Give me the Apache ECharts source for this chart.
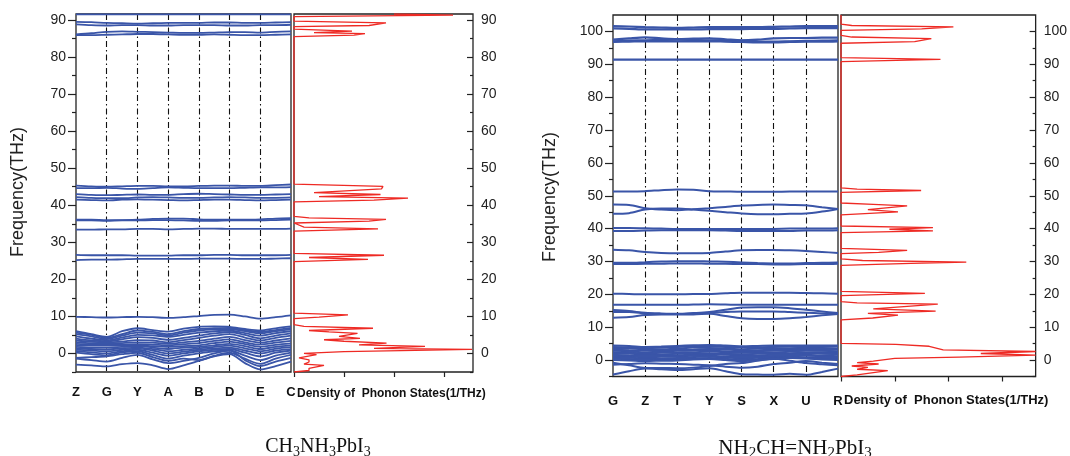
<!DOCTYPE html>
<html>
<head>
<meta charset="utf-8">
<script src="https://cdn.jsdelivr.net/npm/echarts@6/dist/echarts.min.js"></script>
<style>
html,body{margin:0;padding:0;background:#fff;}
#chart{width:1070px;height:456px;}
</style>
</head>
<body>
<div id="chart"></div>
<script>
// ---------- DATA ----------
const kPath = [0,0.5,1,1.5,2,2.5,3,3.5,4,4.5,5,5.5,6,6.5,7];
const kLabels1 = ['Z','G','Y','A','B','D','E','C'];
const kLabels2 = ['G','Z','T','Y','S','X','U','R'];
const yTicks1 = [0,10,20,30,40,50,60,70,80,90];
const yMinor1 = [-5,5,15,25,35,45,55,65,75,85];
const yTicks2 = [0,10,20,30,40,50,60,70,80,90,100];
const yMinor2 = [-5,5,15,25,35,45,55,65,75,85,95];
const dosTicks = [0,1,2,3];
const dosTitle = 'Density of  Phonon States(1/THz)';

// CH3NH3PbI3 phonon bands (THz) along Z-G-Y-A-B-D-E-C
const bandsHigh1 = [
  [91.5,91.5,91.5,91.5,91.5,91.5,91.5,91.5,91.5,91.5,91.5,91.5,91.5,91.5,91.5],
  [89.5,89.4,89.2,89.1,89.0,89.1,89.2,89.2,89.2,89.3,89.3,89.2,89.2,89.3,89.4],
  [88.8,88.6,88.5,88.6,88.6,88.5,88.5,88.6,88.6,88.6,88.5,88.5,88.6,88.6,88.7],
  [86.1,86.4,86.8,86.9,86.8,86.7,86.6,86.5,86.5,86.6,86.7,86.7,86.6,86.8,86.9],
  [85.9,85.9,86.0,86.1,86.2,86.2,86.1,86.0,86.0,86.1,86.0,85.9,85.9,86.0,86.1]
];
const bandsMid1 = [
  [45.3,45.1,45.0,45.1,45.2,45.2,45.1,45.1,45.2,45.3,45.3,45.2,45.2,45.4,45.6],
  [44.6,44.6,44.7,44.5,44.4,44.6,44.8,44.7,44.6,44.6,44.6,44.7,44.8,44.8,44.9],
  [43.0,42.8,42.7,42.8,42.9,42.8,42.8,43.0,43.1,43.0,42.9,42.8,42.8,42.9,43.0],
  [42.2,42.0,41.9,41.9,42.1,42.2,42.1,42.0,42.0,42.1,42.2,42.1,42.0,42.0,42.1],
  [41.5,41.4,41.3,41.5,41.6,41.5,41.4,41.3,41.4,41.5,41.5,41.4,41.3,41.4,41.5],
  [36.1,36.1,36.0,36.0,36.1,36.3,36.4,36.4,36.2,36.1,36.1,36.1,36.2,36.4,36.5],
  [35.9,35.9,35.8,35.9,35.9,36.0,36.0,35.9,35.8,35.8,35.9,35.9,35.9,36.0,36.1],
  [33.4,33.4,33.5,33.5,33.6,33.6,33.5,33.6,33.7,33.7,33.6,33.6,33.6,33.6,33.7],
  [26.6,26.5,26.5,26.5,26.4,26.4,26.4,26.5,26.5,26.6,26.6,26.5,26.5,26.5,26.6],
  [25.2,25.3,25.3,25.4,25.5,25.5,25.5,25.5,25.6,25.6,25.6,25.5,25.5,25.6,25.7],
  [9.9,9.8,9.7,9.8,9.9,9.8,9.6,9.8,10.1,10.4,10.5,10.0,9.4,9.8,10.3]
];
const bandsLow1 = [
  [6.0,5.2,4.5,6.0,6.8,6.3,5.9,6.7,7.2,7.3,7.2,6.6,6.2,6.8,7.3],
  [5.6,5.0,4.2,5.2,6.2,5.8,5.2,6.0,6.6,6.8,6.9,6.3,5.8,6.3,6.9],
  [5.2,4.6,3.9,4.8,5.6,5.4,4.9,5.6,6.2,6.5,6.6,6.0,5.4,6.0,6.5],
  [4.6,4.0,3.6,4.3,5.0,4.9,4.5,5.0,5.6,6.0,6.2,5.5,4.8,5.5,6.0],
  [4.0,3.5,3.3,3.8,4.4,4.2,3.7,4.2,4.8,5.4,5.8,5.0,4.1,4.8,5.4],
  [3.5,3.2,3.0,3.2,3.6,3.5,3.0,3.6,4.2,4.8,5.2,4.3,3.5,4.2,4.8],
  [3.0,2.8,2.8,2.8,3.0,2.9,2.6,3.0,3.4,4.0,4.5,3.6,2.9,3.5,4.1],
  [2.6,2.5,2.5,2.4,2.5,2.4,2.2,2.5,2.8,3.4,3.8,3.0,2.4,2.9,3.4],
  [2.2,2.1,2.1,2.2,2.2,2.0,1.8,2.0,2.2,2.8,3.2,2.5,1.8,2.3,2.7],
  [1.8,1.6,1.6,1.8,2.0,1.6,1.2,1.6,1.8,2.2,2.6,2.0,1.2,1.8,2.2],
  [1.4,1.2,1.1,1.4,1.6,1.2,0.6,1.0,1.4,1.8,2.1,1.4,0.6,1.3,1.7],
  [1.0,0.8,0.6,1.0,1.3,0.8,0.0,0.5,1.0,1.4,1.6,0.8,0.0,0.8,1.2],
  [0.6,0.3,0.0,0.6,1.0,0.2,-0.6,0.0,0.6,1.0,1.2,0.2,-0.8,0.2,0.8],
  [0.2,-0.2,-0.5,0.3,0.6,-0.4,-1.4,-0.6,0.0,0.6,0.8,-0.6,-1.8,-0.6,0.2],
  [-1.2,-1.0,-0.8,-0.2,0.2,-1.0,-2.0,-1.4,-1.8,-0.6,0.2,-1.4,-2.8,-1.4,-0.4],
  [-1.4,-1.8,-2.2,-1.2,-0.4,-1.6,-2.6,-2.0,-1.2,0.0,0.8,-1.8,-3.4,-2.2,-1.2],
  [-3.0,-3.2,-3.5,-2.9,-2.6,-3.2,-4.2,-3.2,-2.0,-0.8,-0.2,-2.6,-4.3,-3.4,-2.2]
];
// CH3NH3PbI3 phonon DOS: [DOS (1/THz), frequency (THz)]
const dos1 = [
  [0,-5.0],[0.3,-4.6],[0.3,-4.0],[0.6,-3.2],[0.2,-2.9],[0.3,-2.3],[0.3,-1.7],[0.1,-1.2],
  [0.45,-0.3],[0.2,0.0],[1.0,0.5],[3.56,1.1],[1.6,1.4],[2.62,1.9],[1.3,2.3],[1.85,2.8],
  [1.0,3.3],[0.6,3.7],[1.32,4.1],[0.9,4.6],[1.27,5.4],[0.7,5.8],[0.3,6.2],[1.58,6.8],
  [0.2,7.3],[0,7.8],[0,9.4],[0.5,9.8],[1.08,10.4],[0,10.9],
  [0,24.8],[1.48,25.4],[0.3,25.9],[1.8,26.5],[0,27.0],
  [0,33.0],[1.68,33.6],[0.2,34.1],[0,35.2],[1.5,35.7],[1.84,36.2],[0.3,36.6],[0,37.0],
  [0,40.9],[1.6,41.4],[2.28,41.9],[0.5,42.3],[1.73,42.9],[0.4,43.4],[1.75,44.4],[1.78,45.1],[0,45.7],
  [0,85.5],[1.2,85.9],[1.42,86.3],[0.4,86.6],[1.16,87.0],[0,87.5],
  [0,88.2],[1.5,88.5],[1.84,89.2],[0,89.7],
  [0,90.9],[3.18,91.3],[2.0,91.6]
];

// NH2CH=NH2PbI3 phonon bands (THz) along G-Z-T-Y-S-X-U-R
const bandsHigh2 = [
  [101.6,101.5,101.3,101.2,101.1,101.2,101.3,101.3,101.3,101.3,101.4,101.5,101.6,101.6,101.6],
  [100.9,100.8,100.6,100.6,100.6,100.6,100.7,100.7,100.7,100.8,100.8,100.9,101.0,101.0,101.0],
  [97.5,97.9,98.2,97.9,97.7,97.8,97.9,97.6,97.3,97.5,97.9,98.0,98.0,98.1,98.1],
  [97.0,97.2,97.3,97.4,97.5,97.4,97.3,97.3,97.2,97.0,96.9,97.0,97.1,97.2,97.3],
  [96.8,96.9,97.0,97.0,97.0,97.0,97.0,96.9,96.8,96.7,96.7,96.8,96.9,96.9,97.0],
  [91.4,91.4,91.4,91.4,91.4,91.4,91.4,91.4,91.4,91.4,91.4,91.4,91.4,91.4,91.4]
];
const bandsMid2 = [
  [51.3,51.3,51.4,51.7,51.9,51.8,51.4,51.3,51.2,51.2,51.2,51.3,51.3,51.3,51.3],
  [47.3,47.2,46.2,45.8,45.6,45.9,46.2,46.6,47.0,47.2,47.3,47.2,47.1,46.5,46.0],
  [44.5,44.7,45.8,46.1,46.1,45.8,45.4,45.0,44.6,44.4,44.4,44.5,44.6,45.2,46.0],
  [40.2,40.2,40.1,40.0,39.9,39.9,39.9,39.9,39.9,39.9,39.9,40.0,40.0,40.0,40.1],
  [39.3,39.3,39.4,39.5,39.5,39.5,39.5,39.4,39.3,39.3,39.3,39.3,39.4,39.4,39.5],
  [33.6,33.4,32.9,32.6,32.5,32.5,32.6,33.0,33.4,33.5,33.5,33.4,33.2,32.9,32.6],
  [29.6,29.6,29.8,30.0,30.1,30.1,30.0,29.9,29.7,29.5,29.4,29.4,29.5,29.6,29.7],
  [29.2,29.2,29.3,29.3,29.4,29.4,29.3,29.3,29.2,29.2,29.1,29.1,29.2,29.2,29.3],
  [20.2,20.1,20.0,20.0,20.0,20.1,20.1,20.3,20.5,20.5,20.5,20.5,20.4,20.3,20.2],
  [16.8,16.8,16.8,16.8,16.8,16.9,17.0,16.9,16.8,16.8,16.8,16.8,16.8,16.8,16.8],
  [15.2,14.9,14.4,14.2,14.1,14.3,14.6,15.3,16.0,16.1,16.1,15.8,15.3,14.8,14.3],
  [14.6,14.6,14.2,14.0,14.0,14.2,14.4,14.6,14.8,14.8,14.8,14.6,14.4,14.2,14.0],
  [12.9,13.1,13.7,13.9,13.9,13.9,14.1,13.4,12.7,12.5,12.5,12.7,13.1,13.6,14.0]
];
const bandsLow2 = [
  [4.4,4.3,4.0,4.1,4.3,4.5,4.6,4.4,4.2,4.3,4.4,4.4,4.4,4.4,4.4],
  [4.0,3.8,3.6,3.8,4.0,4.1,4.1,4.0,3.9,3.9,4.0,4.1,4.0,4.0,4.1],
  [3.6,3.5,3.3,3.3,3.5,3.8,3.7,3.5,3.3,3.5,3.6,3.6,3.7,3.6,3.5],
  [3.2,3.0,2.9,3.0,3.1,3.2,3.4,3.2,3.0,3.0,3.2,3.3,3.2,3.1,3.2],
  [2.8,2.7,2.4,2.6,2.8,2.9,2.9,2.7,2.6,2.7,2.8,2.8,2.9,2.8,2.7],
  [2.4,2.2,2.1,2.2,2.3,2.4,2.6,2.4,2.2,2.3,2.3,2.5,2.4,2.4,2.4],
  [2.0,1.9,1.7,1.7,1.9,2.1,2.1,1.9,1.8,1.9,2.0,2.0,2.1,2.0,1.9],
  [1.6,1.4,1.3,1.4,1.5,1.6,1.8,1.6,1.4,1.4,1.6,1.7,1.6,1.5,1.6],
  [1.2,1.1,0.9,1.0,1.1,1.3,1.3,1.1,1.0,1.1,1.2,1.2,1.3,1.2,1.1],
  [0.8,0.7,0.5,0.5,0.6,0.9,1.0,0.8,0.6,0.7,0.8,0.9,0.8,0.8,0.8],
  [0.4,0.3,0.1,0.2,0.3,0.4,0.6,0.4,0.1,0.3,0.5,0.6,0.6,0.4,0.3],
  [0.0,-0.1,-0.3,-0.2,-0.1,0.2,0.3,0.0,-0.3,0.0,0.3,0.6,0.5,0.2,0.0],
  [-0.8,-1.6,-2.4,-2.4,-2.5,-2.3,-1.8,-1.2,-0.9,-0.2,0.4,-0.2,-0.9,-1.3,-1.6],
  [-1.4,-1.2,-1.0,-1.1,-1.2,-1.4,-1.6,-2.0,-2.3,-2.0,-1.2,-0.8,-0.3,-0.8,-1.2],
  [-4.4,-3.4,-2.6,-2.8,-3.0,-2.8,-2.5,-3.4,-4.3,-4.4,-4.5,-4.2,-4.5,-3.6,-2.6]
];
// NH2CH=NH2PbI3 phonon DOS: [DOS (1/THz), frequency (THz)]
const dos2 = [
  [0,-5.0],[0.3,-4.5],[0.87,-3.2],[0.3,-2.8],[0.5,-2.2],[0.2,-1.8],[0.7,-1.2],[0.3,-0.8],
  [0.6,-0.3],[1.0,0.5],[2.2,0.9],[3.62,1.5],[2.6,2.0],[3.62,2.6],[1.9,3.1],[1.64,4.2],
  [1.02,4.8],[0,5.1],
  [0,12.2],[0.59,12.8],[1.06,13.7],[0.5,14.2],[1.76,14.9],[0.6,15.6],[1.8,17.0],[0.3,17.4],[0,17.8],
  [0,19.6],[1.56,20.3],[0,20.9],
  [0,28.8],[1.3,29.4],[2.33,29.8],[0.4,30.3],[0,30.8],
  [0,32.4],[0.7,32.8],[1.23,33.4],[0,34.0],
  [0,38.8],[1.71,39.3],[0.9,39.8],[1.71,40.3],[0,40.8],
  [0,44.2],[1.06,45.1],[0.5,45.8],[1.23,46.9],[0.6,47.4],[0,47.8],
  [0,51.0],[1.49,51.6],[0.3,52.0],[0,52.4],
  [0,90.8],[1.85,91.5],[0,92.0],
  [0,96.4],[1.37,96.9],[1.68,97.8],[0.2,98.3],[0,98.8],
  [0,100.3],[1.5,100.8],[2.09,101.4],[0.2,101.8],[0,102.2],[0,105]
];

// ---------- CHART ----------
const BLUE = '#3a55a8';
const RED = '#ee2a24';
const AX = '#222';
const SANS = "'Liberation Sans', Arial, sans-serif";
const SERIF = "'Liberation Serif', 'Times New Roman', serif";

function bandSeries(bands, xi, yi, width) {
  return bands.map(b => ({
    type: 'line', xAxisIndex: xi, yAxisIndex: yi, symbol: 'none', smooth: 0.3,
    lineStyle: { color: BLUE, width: width }, silent: true, animation: false,
    data: kPath.map((x, i) => [x, b[i]])
  }));
}
function dosSeries(d, xi, yi) {
  return [{
    type: 'line', xAxisIndex: xi, yAxisIndex: yi, symbol: 'none',
    lineStyle: { color: RED, width: 1.3 }, silent: true, animation: false,
    data: d
  }];
}
function bandX(grid, labels, margin) {
  return {
    type: 'value', gridIndex: grid, min: 0, max: 7, interval: 1, position: 'bottom',
    axisLine: { show: false, onZero: false }, axisTick: { show: false },
    axisLabel: { margin: margin, formatter: v => labels[Math.round(v)] || '',
      fontFamily: SANS, fontWeight: 'bold', fontSize: 13, color: '#111' },
    splitLine: { show: true, showMinLine: false, showMaxLine: false,
      lineStyle: { color: '#111', width: 1.1, type: [6, 3, 1.5, 3] } }
  };
}
function dosX(grid, max) {
  return {
    type: 'value', gridIndex: grid, min: 0, max: max, position: 'bottom',
    axisLine: { show: false, onZero: false },
    axisTick: { show: true, inside: false, length: 5, customValues: dosTicks, lineStyle: { color: AX, width: 1.2 } },
    axisLabel: { show: false },
    splitLine: { show: false }
  };
}
function yMajor(grid, min, max, ticks, pos, inside, len, margin) {
  return {
    type: 'value', gridIndex: grid, min: min, max: max, position: pos,
    axisLine: { show: false, onZero: false },
    axisTick: { show: true, inside: inside, length: len, customValues: ticks, lineStyle: { color: AX, width: 1.2 } },
    axisLabel: { show: true, customValues: ticks, margin: margin, fontFamily: SANS, fontSize: 14, color: '#222' },
    splitLine: { show: false }
  };
}
function yMinor(grid, min, max, ticks, pos, inside, len) {
  return {
    type: 'value', gridIndex: grid, min: min, max: max, position: pos,
    axisLine: { show: false, onZero: false },
    axisTick: { show: true, inside: inside, length: len, customValues: ticks, lineStyle: { color: AX, width: 1.2 } },
    axisLabel: { show: false },
    splitLine: { show: false }
  };
}

const gridStyle = { show: true, borderColor: AX, borderWidth: 1.3, backgroundColor: 'transparent', containLabel: false };
const titleFont = "18px 'Liberation Sans', Arial, sans-serif";

const chart = echarts.init(document.getElementById('chart'), null, { renderer: 'canvas' });
const option = {
  animation: false,
  backgroundColor: '#fff',
  grid: [
    Object.assign({ left: 76, top: 14, width: 215, height: 358 }, gridStyle),
    Object.assign({ left: 294, top: 14, width: 179, height: 358 }, gridStyle),
    Object.assign({ left: 613, top: 15, width: 225, height: 361.5 }, gridStyle),
    Object.assign({ left: 841, top: 15, width: 197, height: 361.5 }, gridStyle)
  ],
  xAxis: [
    bandX(0, kLabels1, 14),
    dosX(1, 3.58),
    bandX(2, kLabels2, 18),
    dosX(3, 3.62)
  ],
  yAxis: [
    yMajor(0, -5, 91.6, yTicks1, 'left', false, 8, 10),
    yMinor(0, -5, 91.6, yMinor1, 'left', false, 4),
    yMajor(1, -5, 91.6, yTicks1, 'right', true, 6, 8),
    yMinor(1, -5, 91.6, yMinor1, 'right', true, 3),
    yMajor(2, -5, 105, yTicks2, 'left', false, 8, 10),
    yMinor(2, -5, 105, yMinor2, 'left', false, 4),
    yMajor(3, -5, 105, yTicks2, 'right', true, 6, 8),
    yMinor(3, -5, 105, yMinor2, 'right', true, 3)
  ],
  series: [].concat(
    bandSeries(bandsHigh1, 0, 0, 1.8),
    bandSeries(bandsMid1, 0, 0, 1.8),
    bandSeries(bandsLow1, 0, 0, 1.8),
    dosSeries(dos1, 1, 2),
    bandSeries(bandsHigh2, 2, 4, 2.2),
    bandSeries(bandsMid2, 2, 4, 2.0),
    bandSeries(bandsLow2, 2, 4, 2.0),
    dosSeries(dos2, 3, 6)
  ),
  graphic: [
    { type: 'text', x: 18, y: 192, rotation: Math.PI / 2,
      style: { text: 'Frequency(THz)', font: titleFont, fill: '#222', align: 'center', verticalAlign: 'middle' } },
    { type: 'text', x: 550, y: 197, rotation: Math.PI / 2,
      style: { text: 'Frequency(THz)', font: titleFont, fill: '#222', align: 'center', verticalAlign: 'middle' } },
    { type: 'text', x: 297, y: 394,
      style: { text: dosTitle, font: "bold 12px 'Liberation Sans', Arial, sans-serif", fill: '#111', align: 'left', verticalAlign: 'middle' } },
    { type: 'text', x: 844, y: 400,
      style: { text: dosTitle, font: "bold 13px 'Liberation Sans', Arial, sans-serif", fill: '#111', align: 'left', verticalAlign: 'middle' } },
    { type: 'text', x: 318, y: 447,
      style: { text: '{n|CH}{s|3}{n|NH}{s|3}{n|PbI}{s|3}', align: 'center', verticalAlign: 'middle', fill: '#111',
        rich: { n: { fontFamily: SERIF, fontSize: 20, lineHeight: 24, verticalAlign: 'middle' },
                s: { fontFamily: SERIF, fontSize: 14, lineHeight: 14, verticalAlign: 'bottom' } } } },
    { type: 'text', x: 795, y: 448,
      style: { text: '{n|NH}{s|2}{n|CH=NH}{s|2}{n|PbI}{s|3}', align: 'center', verticalAlign: 'middle', fill: '#111',
        rich: { n: { fontFamily: SERIF, fontSize: 21, lineHeight: 25, verticalAlign: 'middle' },
                s: { fontFamily: SERIF, fontSize: 15, lineHeight: 15, verticalAlign: 'bottom' } } } }
  ]
};
chart.setOption(option);
</script>
</body>
</html>
